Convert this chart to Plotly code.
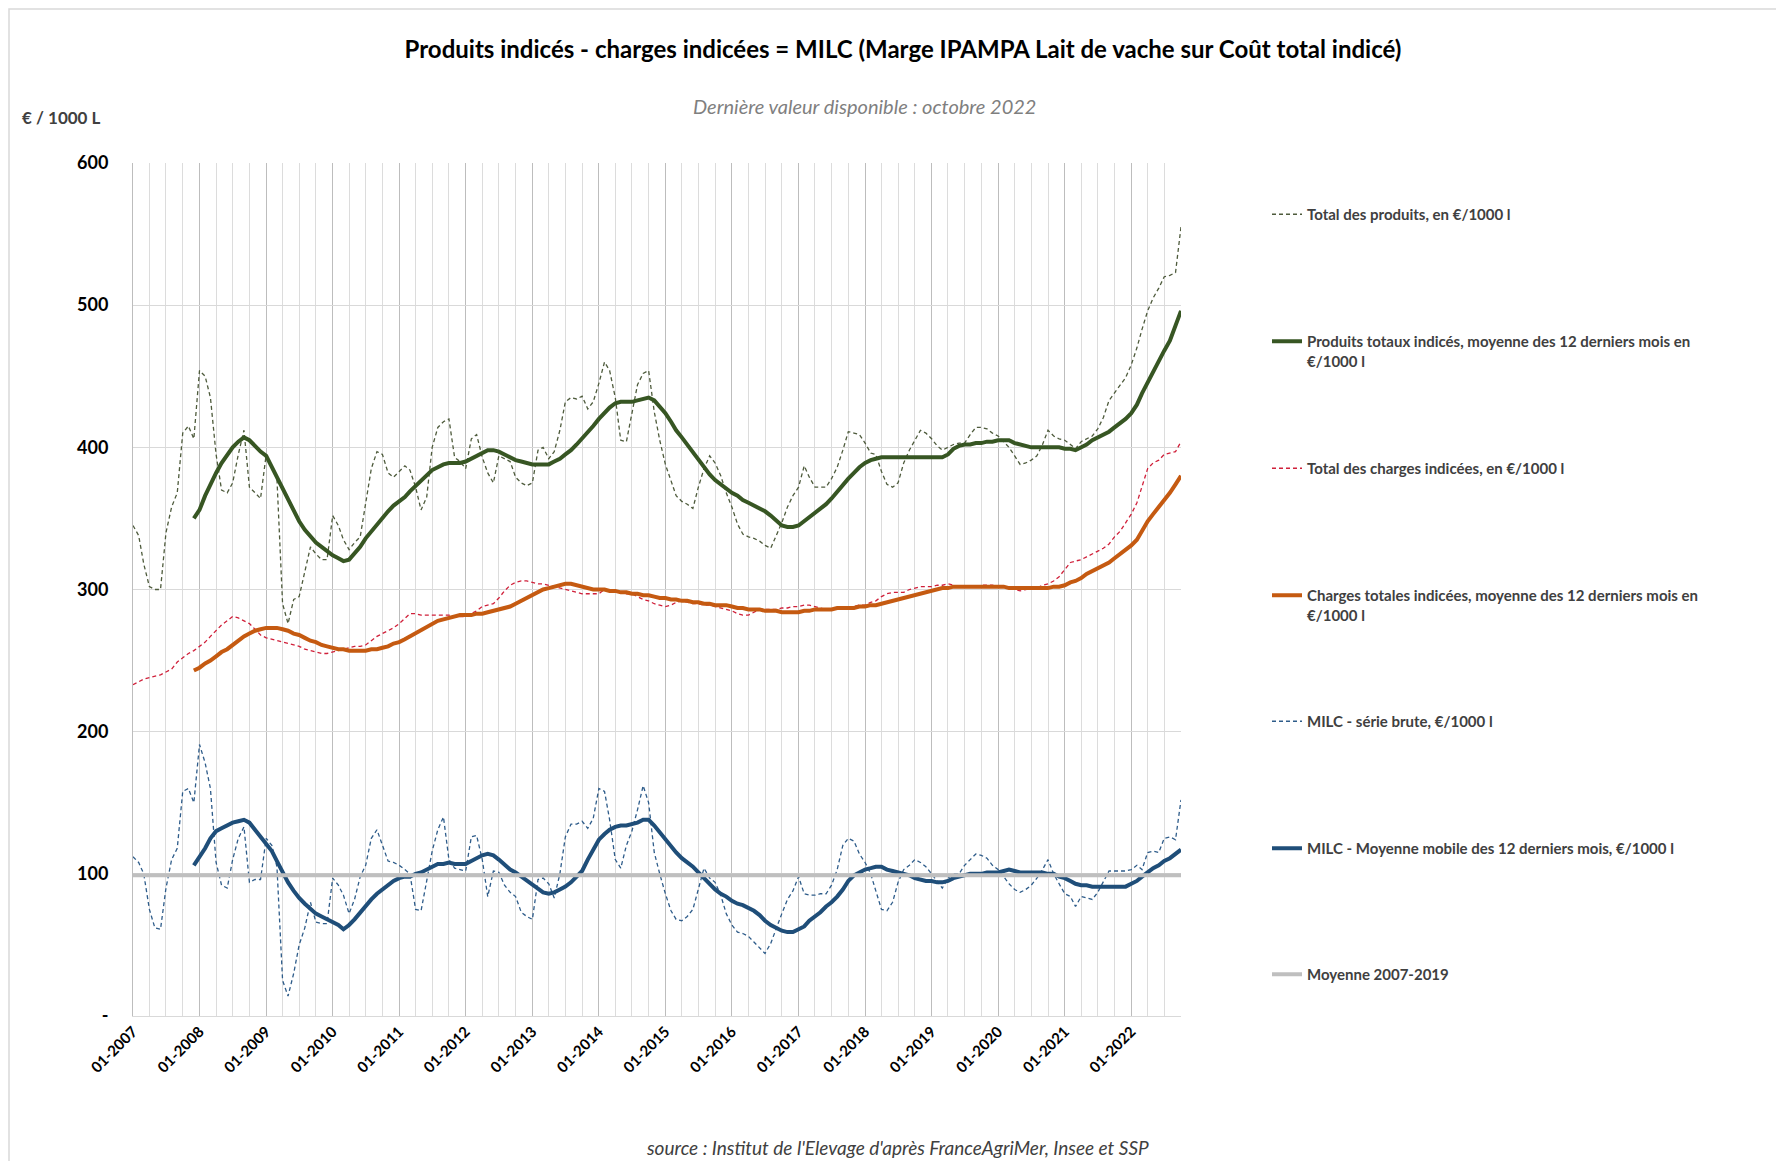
import pandas as pd
import plotly.graph_objects as go

# ---------------- data (monthly, 01-2007 .. 10-2022) ----------------
months = pd.date_range("2007-01-01", periods=190, freq="MS")
ma_months = months[11:]

produits_bruts = [
    345, 338, 318, 302, 300, 300, 340, 358, 368, 410,
    415, 406, 454, 450, 435, 395, 370, 368, 375, 395,
    412, 372, 368, 364, 395, 385, 378, 290, 276, 293,
    295, 312, 330, 325, 321, 321, 352, 345, 335, 328,
    333, 337, 360, 385, 397, 395, 382, 379, 383, 387,
    384, 372, 356, 365, 400, 414, 418, 420, 393, 390,
    385, 406, 409, 393, 382, 375, 394, 392, 390, 379,
    375, 373, 375, 398, 400, 392, 397, 412, 432, 435,
    434, 436, 427, 432, 445, 460, 454, 435, 405, 404,
    425, 444, 452, 454, 425, 405, 388, 377, 366, 362,
    360, 357, 372, 385, 394, 389, 380, 368, 358, 346,
    339, 337, 336, 334, 331, 329, 338, 347, 358, 366,
    372, 387, 379, 372, 372, 372, 378, 386, 398, 411,
    410, 409, 403, 396, 395, 383, 374, 372, 375, 389,
    398, 405, 412, 410, 406, 401, 398, 400, 402, 403,
    403, 409, 414, 414, 413, 410, 408, 404, 400, 394,
    388, 389, 391, 394, 402, 412, 408, 406, 405, 402,
    399, 404, 406, 408, 413, 421, 433, 438, 444, 449,
    458, 470, 483, 496, 505, 512, 520, 521, 523, 555,
]

produits_mm12 = [
    350, 356, 366, 374, 382, 389, 395, 400, 404,
    407, 405, 401, 397, 394, 386, 379, 371, 363, 355,
    348, 342, 337, 333, 330, 327, 324, 322, 320, 321,
    325, 330, 336, 341, 346, 351, 355, 359, 362, 365,
    369, 373, 377, 381, 384, 386, 388, 389, 389, 389,
    390, 392, 394, 396, 398, 398, 397, 395, 393, 391,
    390, 389, 388, 388, 388, 388, 390, 392, 395, 398,
    402, 406, 411, 415, 420, 424, 428, 431, 432, 432,
    432, 433, 434, 435, 433, 429, 424, 418, 412, 407,
    402, 396, 391, 386, 381, 377, 374, 371, 368, 366,
    363, 361, 359, 357, 355, 352, 348, 345, 344, 344,
    345, 348, 351, 354, 357, 360, 364, 369, 373, 378,
    382, 386, 389, 391, 392, 393, 393, 393, 393, 393,
    393, 393, 393, 393, 393, 393, 393, 395, 399, 401,
    402, 402, 403, 403, 404, 404, 405, 405, 405, 403,
    402, 401, 400, 400, 400, 400, 400, 400, 399, 399,
    398, 400, 402, 405, 407, 409, 411, 414, 417, 420,
    424, 430, 438, 446, 453, 461, 468, 475, 485, 496,
]

charges_brutes = [
    233, 235, 237, 238, 239, 240, 242, 244, 249, 252,
    255, 257, 260, 263, 267, 271, 275, 278, 281, 280,
    278, 276, 272, 268, 266, 265, 264, 263, 262, 261,
    260, 258, 257, 256, 255, 255, 256, 257, 258, 259,
    260, 260, 261, 264, 267, 269, 271, 273, 276, 280,
    283, 283, 282, 282, 282, 282, 282, 282, 281, 281,
    281, 283, 285, 288, 289, 290, 294, 299, 303, 305,
    306, 306, 305, 304, 304, 303, 302, 301, 300, 299,
    298, 297, 297, 297, 297, 300, 299, 298, 298, 297,
    297, 295, 293, 292, 290, 289, 288, 289, 291, 292,
    291, 290, 290, 289, 289, 288, 287, 286, 285, 283,
    282, 282, 284, 286, 286, 286, 286, 287, 287, 288,
    288, 289, 289, 288, 287, 286, 286, 286, 286, 287,
    288, 289, 289, 291, 292, 295, 297, 298, 298, 298,
    300, 301, 302, 302, 302, 303, 303, 304, 303, 302,
    302, 302, 302, 303, 303, 303, 302, 302, 301, 300,
    299, 300, 301, 301, 303, 304, 306, 309, 314, 319,
    320, 321, 323, 325, 327, 329, 332, 337, 341, 347,
    353, 361, 373, 385, 389, 391, 395, 396, 397, 404,
]

charges_mm12 = [
    243, 245, 248, 250, 253, 256, 258, 261, 264,
    267, 269, 271, 272, 273, 273, 273, 272, 271, 269,
    268, 266, 264, 263, 261, 260, 259, 258, 258, 257,
    257, 257, 257, 258, 258, 259, 260, 262, 263, 265,
    267, 270, 272, 274, 276, 278, 279, 280, 281, 282,
    282, 282, 283, 283, 284, 285, 286, 287, 288, 290,
    292, 294, 296, 298, 300, 301, 302, 303, 304, 304,
    303, 302, 301, 300, 300, 300, 299, 299, 298, 298,
    297, 297, 296, 296, 295, 294, 294, 293, 293, 292,
    292, 291, 291, 290, 290, 289, 289, 289, 288, 287,
    287, 286, 286, 286, 285, 285, 285, 284, 284, 284,
    284, 285, 285, 286, 286, 286, 286, 287, 287, 287,
    287, 288, 288, 289, 289, 290, 291, 292, 293, 294,
    295, 296, 297, 298, 299, 300, 301, 301, 302, 302,
    302, 302, 302, 302, 302, 302, 302, 302, 301, 301,
    301, 301, 301, 301, 301, 301, 302, 302, 303, 305,
    306, 308, 311, 313, 315, 317, 319, 322, 325, 328,
    331, 335, 341, 348, 353, 358, 363, 368, 374, 380,
]

milc_brute = [
    112, 108, 100, 75, 62, 61, 90, 110, 118, 158,
    160, 150, 191, 178, 160, 108, 92, 90, 110, 125,
    133, 94, 96, 96, 125, 120, 105, 25, 14, 30,
    50, 62, 80, 66, 65, 65, 97, 92, 85, 72,
    82, 98, 106, 125, 131, 120, 109, 108, 106, 103,
    100, 75, 74, 95, 116, 131, 140, 110, 104, 103,
    102, 126, 127, 110, 84, 102, 101, 92, 87, 84,
    73, 70, 68, 96, 97, 93, 83, 100, 126, 135,
    135, 137, 132, 139, 160, 158, 138, 110, 104, 120,
    130, 145, 162, 150, 115, 100, 86, 74, 68, 67,
    70, 75, 90, 104, 97, 94, 85, 72, 64, 59,
    58, 56, 52, 48, 44, 51, 62, 72, 82, 88,
    98, 86, 85, 85, 86, 86, 92, 103, 120, 125,
    123, 114, 108, 100, 88, 75, 74, 80, 94, 103,
    106, 110, 108, 105, 100, 95, 90, 97, 100, 100,
    106, 110, 114, 113, 111, 106, 103, 98, 93, 89,
    87, 89, 92, 97, 103, 110, 100, 93, 86, 84,
    77, 84, 83, 82, 87, 95, 102, 102, 102, 102,
    103, 106, 103, 115, 116, 115, 125, 126, 124, 152,
]

milc_mm12 = [
    106, 112, 118, 125, 130, 132, 134, 136, 137,
    138, 136, 131, 127, 122, 116, 109, 101, 94, 88,
    83, 79, 75, 72, 70, 68, 66, 64, 61, 64,
    68, 73, 78, 82, 86, 89, 92, 95, 97, 98,
    98, 100, 101, 103, 105, 107, 107, 108, 107, 107,
    107, 109, 111, 113, 114, 113, 110, 106, 103, 101,
    98, 95, 92, 89, 87, 86, 87, 89, 91, 94,
    98, 102, 110, 117, 124, 128, 131, 133, 134, 134,
    135, 136, 138, 138, 134, 129, 124, 119, 115, 111,
    108, 105, 101, 97, 93, 89, 86, 84, 81, 79,
    78, 76, 74, 71, 67, 64, 62, 60, 59, 59,
    61, 63, 67, 70, 73, 77, 80, 84, 89, 95,
    99, 101, 103, 104, 105, 105, 103, 102, 101, 100,
    99, 97, 96, 95, 95, 94, 94, 95, 97, 98,
    99, 100, 100, 100, 101, 101, 101, 102, 103, 102,
    101, 101, 101, 101, 101, 100, 100, 98, 97, 95,
    93, 92, 92, 91, 91, 91, 91, 91, 91, 91,
    93, 95, 98, 101, 104, 106, 109, 111, 114, 117,
]

moyenne_2007_2019 = 99

y_ticks = [0, 100, 200, 300, 400, 500, 600]
y_ticktext = ["-", "100", "200", "300", "400", "500", "600"]

names = [
    "Total des produits, en €/1000 l",
    "Produits totaux indicés, moyenne des 12 derniers mois en<br>€/1000 l",
    "Total des charges indicées, en €/1000 l",
    "Charges totales indicées, moyenne des 12 derniers mois en<br>€/1000 l",
    "MILC - série brute, €/1000 l",
    "MILC - Moyenne mobile des 12 derniers mois, €/1000 l",
    "Moyenne 2007-2019",
]

# ---------------- layout geometry (screen pixels) ----------------
OFF = 8                      # page body margin
FW, FH = 1784 - OFF, 1161 - OFF
L, R, T, B = 133 - OFF, 603, 163 - OFF, 145
PW, PH = FW - L - R, FH - T - B


def px(X):
    return (X - OFF - L) / PW


def py(Y):
    return (FH - B - (Y - OFF)) / PH


FONT = "Lato, 'Open Sans', sans-serif"
DASH = "4px,3px"

fig = go.Figure()

series = [
    (months, produits_bruts, "#4e5b3c", 1.3, DASH),
    (ma_months, produits_mm12, "#375623", 4, "solid"),
    (months, charges_brutes, "#d0203a", 1.3, DASH),
    (ma_months, charges_mm12, "#c55a11", 4, "solid"),
    (months, milc_brute, "#2e5c8a", 1.3, DASH),
    (ma_months, milc_mm12, "#1f4e79", 4, "solid"),
    (months, [moyenne_2007_2019] * len(months), "#bfbfbf", 4, "solid"),
]

legend_rows = [214, 341, 468, 595, 721, 848, 974]

for i, (xs, ys, col, w, dash) in enumerate(series):
    lg = "legend" if i == 0 else f"legend{i + 1}"
    fig.add_trace(go.Scatter(
        x=xs, y=ys, mode="lines", name=names[i],
        line=dict(color=col, width=w, dash=dash),
        legend=lg, showlegend=True, hoverinfo="skip",
    ))

legend_common = dict(
    xanchor="left", yanchor="top", bgcolor="rgba(0,0,0,0)",
    font=dict(family=FONT, size=15, color="#404040", weight="bold"),
    valign="top", itemwidth=30,
)
legends = {}
for i, Y in enumerate(legend_rows):
    key = "legend" if i == 0 else f"legend{i + 1}"
    legends[key] = dict(legend_common, x=px(1267), y=py(Y - 16))

fig.update_layout(
    width=FW, height=FH,
    margin=dict(l=L, r=R, t=T, b=B),
    paper_bgcolor="white", plot_bgcolor="white",
    font=dict(family=FONT, color="#000000"),
    title=dict(
        text="Produits indicés - charges indicées = MILC (Marge IPAMPA Lait de vache sur Coût total indicé)",
        x=(903 - OFF) / FW, xref="container", xanchor="center",
        y=1 - (50 - OFF) / FH, yref="container", yanchor="middle",
        font=dict(family=FONT, size=24, color="#000000", weight="bold"),
    ),
    xaxis=dict(
        type="date",
        range=[months[0], months[-1]],
        tick0="2007-01-01", dtick="M12", tickformat="%m-%Y",
        tickangle=-45,
        tickfont=dict(family=FONT, size=15, color="#000000", weight="bold"),
        showgrid=True, gridcolor="#bdbdbd", gridwidth=1,
        minor=dict(dtick="M3", tick0="2007-01-01", showgrid=True,
                   gridcolor="#dcdcdc", gridwidth=1),
        showline=True, linecolor="#d9d9d9", linewidth=1,
        ticks="", zeroline=False,
    ),
    yaxis=dict(
        range=[0, 600],
        tickvals=y_ticks, ticktext=y_ticktext,
        tickfont=dict(family=FONT, size=18, color="#000000", weight="bold"),
        showgrid=True, gridcolor="#d9d9d9", gridwidth=1,
        zeroline=False, showline=True, linecolor="#bdbdbd", linewidth=1,
        ticks="", ticklabelstandoff=20,
    ),
    annotations=[
        dict(text="<i>Dernière valeur disponible : octobre 2022</i>",
             x=px(864), y=py(106), xref="paper", yref="paper",
             showarrow=False, xanchor="center", yanchor="middle",
             font=dict(family=FONT, size=20, color="#7f7f7f")),
        dict(text="€ / 1000 L",
             x=px(20), y=py(117), xref="paper", yref="paper",
             showarrow=False, xanchor="left", yanchor="middle",
             font=dict(family=FONT, size=17, color="#404040", weight="bold")),
        dict(text="<i>source : Institut de l'Elevage d'après FranceAgriMer, Insee et SSP</i>",
             x=px(897), y=py(1147), xref="paper", yref="paper",
             showarrow=False, xanchor="center", yanchor="middle",
             font=dict(family=FONT, size=19, color="#404040")),
    ],
    shapes=[
        dict(type="rect", xref="paper", yref="paper",
             x0=px(9), y0=py(9), x1=px(1800), y1=py(1180),
             line=dict(color="#d9d9d9", width=1.5), fillcolor="rgba(0,0,0,0)",
             layer="below"),
    ],
    **legends,
)

fig.write_html("out.html")
